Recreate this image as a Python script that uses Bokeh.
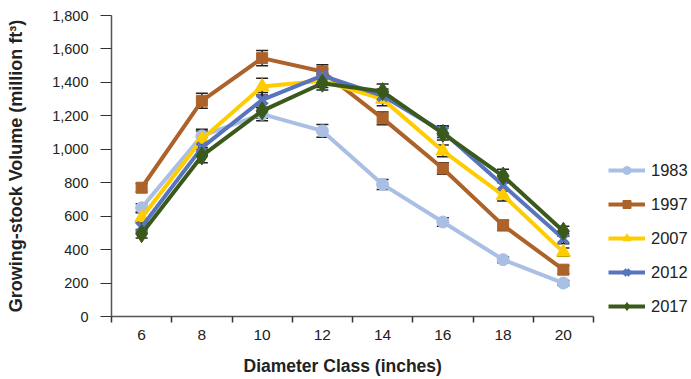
from bokeh.plotting import figure
from bokeh.models import (Range1d, FixedTicker, NumeralTickFormatter, Whisker,
                          ColumnDataSource, Legend, LegendItem, TeeHead, Title)
from bokeh.embed import file_html
from bokeh.resources import INLINE

categories = [6, 8, 10, 12, 14, 16, 18, 20]
years = ["1983", "1997", "2007", "2012", "2017"]
v1983 = [650, 1080, 1210, 1110, 790, 565, 340, 200]
v1997 = [770, 1290, 1545, 1465, 1185, 885, 545, 280]
v2007 = [590, 1060, 1375, 1410, 1300, 990, 725, 385]
v2012 = [535, 1010, 1295, 1440, 1320, 1105, 785, 465]
v2017 = [495, 960, 1230, 1395, 1345, 1095, 840, 510]
e1983 = [25, 40, 40, 38, 30, 25, 18, 15]
e1997 = [25, 45, 45, 40, 38, 35, 30, 25]
e2007 = [30, 50, 50, 40, 40, 35, 35, 25]
e2012 = [30, 40, 45, 40, 40, 35, 35, 30]
e2017 = [25, 40, 45, 40, 45, 40, 40, 30]
y_ticks = [0, 200, 400, 600, 800, 1000, 1200, 1400, 1600, 1800]
x_boundaries = [5, 7, 9, 11, 13, 15, 17, 19, 21]

series = [
    ("1983", v1983, e1983, "#A9BFE4", "circle", 12),
    ("1997", v1997, e1997, "#AD622A", "square", 11),
    ("2007", v2007, e2007, "#FFCC00", "triangle", 14),
    ("2012", v2012, e2012, "#5874BD", "x", 14),
    ("2017", v2017, e2017, "#3A5A1C", "diamond", 18),
]

FONT = "Liberation Sans"
W, H = 691, 379
LEFT, TOP, BOTTOM = 111, 15, 63
AXIS_PX = 482                      # pixel length of the x axis
frame_w = W - LEFT
x_lo, x_hi = x_boundaries[0], x_boundaries[-1]
x_end = x_lo + (x_hi - x_lo) * frame_w / AXIS_PX

p = figure(width=W, height=H, output_backend="svg", toolbar_location=None,
           x_range=Range1d(x_lo, x_end), y_range=Range1d(0, 1800),
           min_border_left=LEFT, min_border_right=0, min_border_top=TOP,
           min_border_bottom=BOTTOM)
p.outline_line_color = None
p.xgrid.visible = False
p.ygrid.visible = False

items = []
for name, vals, errs, col, mk, sz in series:
    src = ColumnDataSource(dict(
        x=categories, y=vals,
        upper=[v + e for v, e in zip(vals, errs)],
        lower=[v - e for v, e in zip(vals, errs)]))
    ln = p.line("x", "y", source=src, line_color=col, line_width=4)
    if mk == "x":
        m = p.scatter("x", "y", source=src, marker=mk, size=sz,
                      line_color=col, line_width=4)
    else:
        m = p.scatter("x", "y", source=src, marker=mk, size=sz,
                      fill_color=col, line_color=col)
    w = Whisker(source=src, base="x", upper="upper", lower="lower",
                line_color="#222222", line_width=1.5,
                upper_head=TeeHead(size=12, line_color="#222222", line_width=1.5),
                lower_head=TeeHead(size=12, line_color="#222222", line_width=1.5))
    p.add_layout(w)
    items.append(LegendItem(label=name, renderers=[ln, m]))

legend = Legend(items=items, location=(497, 0), padding=0, margin=0,
                spacing=14, glyph_height=20, glyph_width=37, label_height=20,
                label_standoff=6, border_line_color=None,
                background_fill_alpha=0,
                label_text_font=FONT, label_text_font_size="16.5px",
                label_text_color="#222222")
p.add_layout(legend, "center")

# y axis
p.yaxis.ticker = FixedTicker(ticks=y_ticks)
p.yaxis.formatter = NumeralTickFormatter(format="0,0")
p.yaxis.major_tick_in = 0
p.yaxis.major_tick_out = 11
p.yaxis.minor_tick_line_color = None
p.yaxis.axis_line_color = "#555555"
p.yaxis.axis_line_width = 1.5
p.yaxis.major_tick_line_color = "#333333"
p.yaxis.major_label_standoff = 12
p.yaxis.major_label_text_font = FONT
p.yaxis.major_label_text_font_size = "14.5px"
p.yaxis.major_label_text_color = "#222222"
p.yaxis.axis_label = "Growing-stock Volume (million ft³)"
p.yaxis.axis_label_text_font = FONT
p.yaxis.axis_label_text_font_style = "bold"
p.yaxis.axis_label_text_font_size = "18px"
p.yaxis.axis_label_text_color = "#222222"
p.yaxis.axis_label_standoff = 23

# x axis
p.xaxis.bounds = (x_lo, x_hi)
p.xaxis.ticker = FixedTicker(ticks=categories, minor_ticks=x_boundaries)
p.xaxis.major_tick_line_color = None
p.xaxis.major_tick_in = 0
p.xaxis.major_tick_out = 6
p.xaxis.minor_tick_in = 0
p.xaxis.minor_tick_out = 6
p.xaxis.minor_tick_line_color = "#333333"
p.xaxis.minor_tick_line_width = 1.5
p.xaxis.axis_line_color = "#555555"
p.xaxis.axis_line_width = 1.5
p.xaxis.major_label_standoff = 7
p.xaxis.major_label_text_font = FONT
p.xaxis.major_label_text_font_size = "15.5px"
p.xaxis.major_label_text_color = "#222222"
# blank spacer label to push the title below down a little
p.xaxis.axis_label = " "
p.xaxis.axis_label_text_font_size = "1px"
p.xaxis.axis_label_standoff = 9

xlabel = Title(text="Diameter Class (inches)", align="left", offset=132,
               standoff=0, vertical_align="top", text_font=FONT,
               text_font_style="bold", text_font_size="17.5px",
               text_color="#222222")
p.add_layout(xlabel, "below")

open("out.html", "w").write(file_html(p, INLINE))
